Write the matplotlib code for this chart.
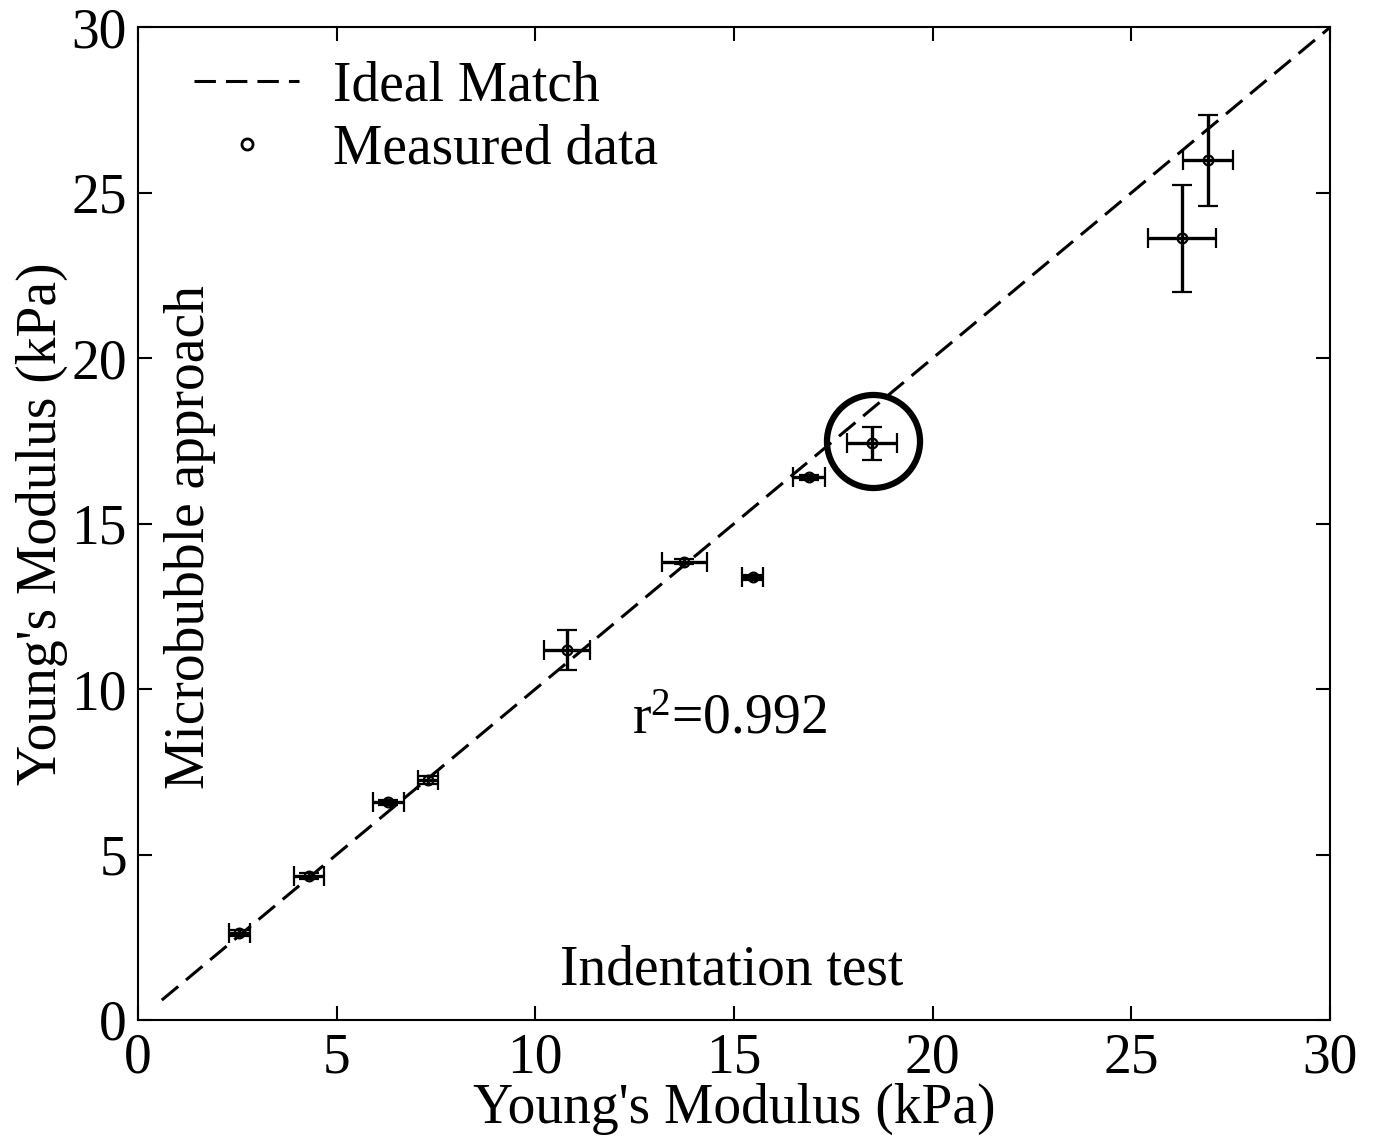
import matplotlib
matplotlib.use('Agg')
import matplotlib.pyplot as plt
from matplotlib.lines import Line2D

plt.rcParams['font.family'] = ['Liberation Serif', 'DejaVu Serif']
plt.rcParams['mathtext.fontset'] = 'custom'
plt.rcParams['mathtext.rm'] = 'Liberation Serif'
plt.rcParams['mathtext.it'] = 'Liberation Serif'

# indentation test (x) vs microbubble approach (y), kPa
indent = [2.55, 4.3, 6.3, 7.3, 10.8, 13.75, 15.47, 16.88, 18.47, 26.27, 26.93]
bubble = [2.63, 4.35, 6.58, 7.25, 11.18, 13.85, 13.38, 16.4, 17.43, 23.62, 25.98]
indent_err = [0.27, 0.38, 0.39, 0.25, 0.58, 0.57, 0.26, 0.4, 0.62, 0.86, 0.63]
bubble_err = [0.08, 0.1, 0.08, 0.12, 0.6, 0.08, 0.08, 0.08, 0.5, 1.61, 1.37]

ideal_x = [0.6, 30]
ideal_y = [0.6, 30]
ticks = [0, 5, 10, 15, 20, 25, 30]
highlight = (18.5, 17.5)

fs = 40

fig = plt.figure(figsize=(13.74, 11.4), dpi=100)
ax = fig.add_axes([0.1004, 0.1053, 0.8676, 0.8707])

line, = ax.plot(ideal_x, ideal_y, color='black', lw=2.2, ls='--')
line.set_dashes([7.0, 3.3])

ax.errorbar(indent, bubble, xerr=indent_err, yerr=bubble_err, fmt='o', color='black',
            mfc='none', mec='black', ms=7, mew=1.6, ecolor='black', elinewidth=2.4,
            capsize=7, capthick=2.4)

# circled point
ax.plot([highlight[0]], [highlight[1]], marker='o', ms=67, mfc='none', mec='black', mew=4.5)

ax.text(12.44, 8.67, r'r$^{2}$=0.992', fontsize=fs, ha='left', va='baseline')
ax.text(14.95, 1.06, 'Indentation test', fontsize=fs, ha='center', va='baseline')
ax.text(1.3, 14.6, 'Microbubble approach', fontsize=fs, rotation=90, ha='center', va='center')

ax.set_xlim(0, 30)
ax.set_ylim(0, 30)
ax.set_xticks(ticks)
ax.set_yticks(ticks)
ax.tick_params(direction='in', length=10, width=1.5, labelsize=fs, top=True, right=True)
ax.tick_params(axis='x', pad=9)
ax.tick_params(axis='y', pad=8)
for s in ax.spines.values():
    s.set_linewidth(1.5)

ax.set_xlabel("Young's Modulus (kPa)", fontsize=fs, labelpad=-1)
ax.set_ylabel("Young's Modulus (kPa)", fontsize=fs, labelpad=2)

ideal_h = Line2D([], [], color='black', lw=2.2, ls='--', dashes=[7.0, 3.3])
meas_h = Line2D([], [], marker='o', ls='none', color='black', mfc='none', ms=8, mew=2.0)
ax.legend([ideal_h, meas_h], ['Ideal Match', 'Measured data'], loc='upper left',
          bbox_to_anchor=(0.005, 1.017), frameon=False, fontsize=fs, numpoints=1,
          handlelength=1.9, handletextpad=0.6, labelspacing=0.2)

fig.savefig('out.png', dpi=100)
